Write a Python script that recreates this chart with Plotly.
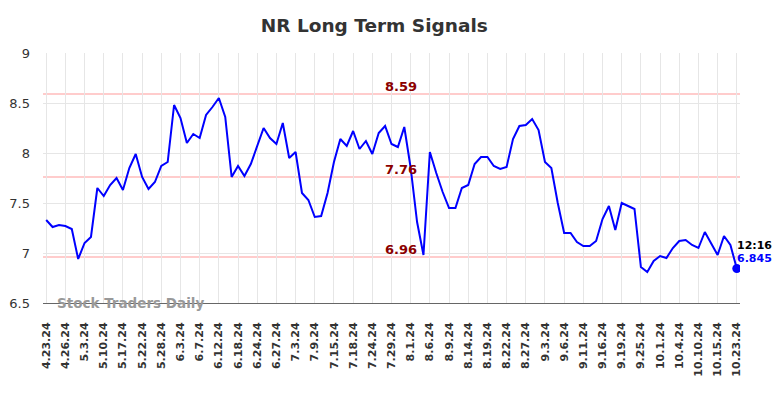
import plotly.graph_objects as go

dates = [
    "4.23.24", "4.24.24", "4.25.24", "4.26.24", "4.29.24", "5.1.24", "5.3.24", "5.6.24", "5.8.24",
    "5.10.24", "5.13.24", "5.15.24", "5.17.24", "5.20.24", "5.21.24", "5.22.24", "5.23.24", "5.24.24",
    "5.28.24", "5.30.24", "5.31.24", "6.3.24", "6.4.24", "6.6.24", "6.7.24", "6.10.24", "6.11.24",
    "6.12.24", "6.13.24", "6.17.24", "6.18.24", "6.20.24", "6.21.24", "6.24.24", "6.25.24", "6.26.24",
    "6.27.24", "7.1.24", "7.2.24", "7.3.24", "7.5.24", "7.8.24", "7.9.24", "7.10.24", "7.12.24",
    "7.15.24", "7.16.24", "7.17.24", "7.18.24", "7.22.24", "7.23.24", "7.24.24", "7.25.24", "7.26.24",
    "7.29.24", "7.30.24", "7.31.24", "8.1.24", "8.2.24", "8.5.24", "8.6.24", "8.7.24", "8.8.24",
    "8.9.24", "8.12.24", "8.13.24", "8.14.24", "8.15.24", "8.16.24", "8.19.24", "8.20.24", "8.21.24",
    "8.22.24", "8.23.24", "8.26.24", "8.27.24", "8.28.24", "8.30.24", "9.3.24", "9.4.24", "9.5.24",
    "9.6.24", "9.9.24", "9.10.24", "9.11.24", "9.12.24", "9.13.24", "9.16.24", "9.17.24", "9.18.24",
    "9.19.24", "9.20.24", "9.24.24", "9.25.24", "9.26.24", "9.27.24", "10.1.24", "10.2.24", "10.3.24",
    "10.4.24", "10.7.24", "10.9.24", "10.10.24", "10.11.24", "10.14.24", "10.15.24", "10.17.24", "10.21.24",
    "10.23.24",
]

prices = [
    7.33, 7.26, 7.28, 7.27, 7.24, 6.94, 7.10, 7.16, 7.65, 7.57,
    7.68, 7.75, 7.63, 7.85, 7.99, 7.76, 7.64, 7.71, 7.87, 7.91,
    8.48, 8.35, 8.10, 8.19, 8.15, 8.38, 8.46, 8.55, 8.36, 7.76,
    7.87, 7.77, 7.89, 8.07, 8.25, 8.15, 8.09, 8.30, 7.95, 8.01,
    7.60, 7.53, 7.36, 7.37, 7.60, 7.91, 8.14, 8.07, 8.22, 8.04,
    8.12, 7.99, 8.20, 8.27, 8.09, 8.06, 8.26, 7.85, 7.31, 6.98,
    8.01, 7.80, 7.61, 7.45, 7.45, 7.65, 7.68, 7.89, 7.96, 7.96,
    7.87, 7.84, 7.86, 8.14, 8.27, 8.28, 8.34, 8.23, 7.91, 7.85,
    7.50, 7.20, 7.20, 7.11, 7.07, 7.07, 7.12, 7.34, 7.47, 7.23,
    7.50, 7.47, 7.44, 6.86, 6.81, 6.92, 6.97, 6.95, 7.05, 7.12,
    7.13, 7.08, 7.05, 7.21, 7.10, 6.98, 7.17, 7.08, 6.845,
]

signal_levels = [8.59, 7.76, 6.96]
signal_labels = ["8.59", "7.76", "6.96"]
y_ticks = [6.5, 7, 7.5, 8, 8.5, 9]
y_tick_labels = ["6.5", "7", "7.5", "8", "8.5", "9"]
tick_dates = dates[::3]
last_time = "12:16"
last_label = "6.845"

idx = list(range(len(dates)))
tick_idx = idx[::3]

fig = go.Figure()

for lvl in signal_levels:
    fig.add_shape(type="line", xref="paper", x0=0, x1=1, yref="y", y0=lvl, y1=lvl,
                  line=dict(color="#ffcccc", width=2), layer="below")

fig.add_trace(go.Scatter(x=idx, y=prices, mode="lines",
                         line=dict(color="#0000ff", width=2), hoverinfo="skip"))
fig.add_trace(go.Scatter(x=[idx[-1]], y=[prices[-1]], mode="markers",
                         marker=dict(color="#0000ff", size=9), hoverinfo="skip"))

mid = 55.5
for lvl, lab in zip(signal_levels, signal_labels):
    fig.add_annotation(x=mid, y=lvl, text="<b>%s</b>" % lab, showarrow=False,
                       yanchor="bottom", yshift=-2, xanchor="center",
                       font=dict(family="DejaVu Sans", size=13, color="#8b0000"))

fig.add_annotation(x=idx[-1], y=prices[-1], text="<b>%s</b>" % last_time, showarrow=False,
                   xanchor="left", yanchor="middle", xshift=-2, yshift=23,
                   font=dict(family="DejaVu Sans", size=11, color="#000000"))
fig.add_annotation(x=idx[-1], y=prices[-1], text="<b>%s</b>" % last_label, showarrow=False,
                   xanchor="left", yanchor="middle", xshift=-2, yshift=10,
                   font=dict(family="DejaVu Sans", size=11, color="#0000ff"))

fig.add_annotation(x=0.017, xref="paper", y=6.5, yref="y", text="<b>Stock Traders Daily</b>",
                   showarrow=False, xanchor="left", yanchor="middle",
                   font=dict(family="DejaVu Sans", size=13.5, color="#999999"))

fig.update_layout(
    width=776, height=390,
    margin=dict(l=35, r=44, t=45, b=95),
    paper_bgcolor="white", plot_bgcolor="white",
    showlegend=False,
    title=dict(text="<b>NR Long Term Signals</b>", x=0.472, xanchor="center", y=0.954, yanchor="middle",
               font=dict(family="DejaVu Sans", size=18.5, color="#333333")),
    xaxis=dict(range=[-0.5, len(dates) - 0.5], tickmode="array", tickvals=tick_idx,
               ticktext=["<b>%s</b>" % t for t in tick_dates],
               tickangle=-90, showgrid=True, gridcolor="#e6e6e6", gridwidth=1,
               showline=True, linecolor="#666666", linewidth=1, zeroline=False,
               ticks="", ticklabelstandoff=14, automargin=False,
               tickfont=dict(family="DejaVu Sans", size=11, color="#333333")),
    yaxis=dict(range=[6.5, 9], tickmode="array", tickvals=y_ticks, ticktext=y_tick_labels,
               showgrid=True, gridcolor="#e6e6e6", gridwidth=1, zeroline=False, showline=False,
               ticks="", ticklabelstandoff=12, automargin=False,
               tickfont=dict(family="DejaVu Sans", size=13, color="#333333")),
)

fig.write_html("out.html")
